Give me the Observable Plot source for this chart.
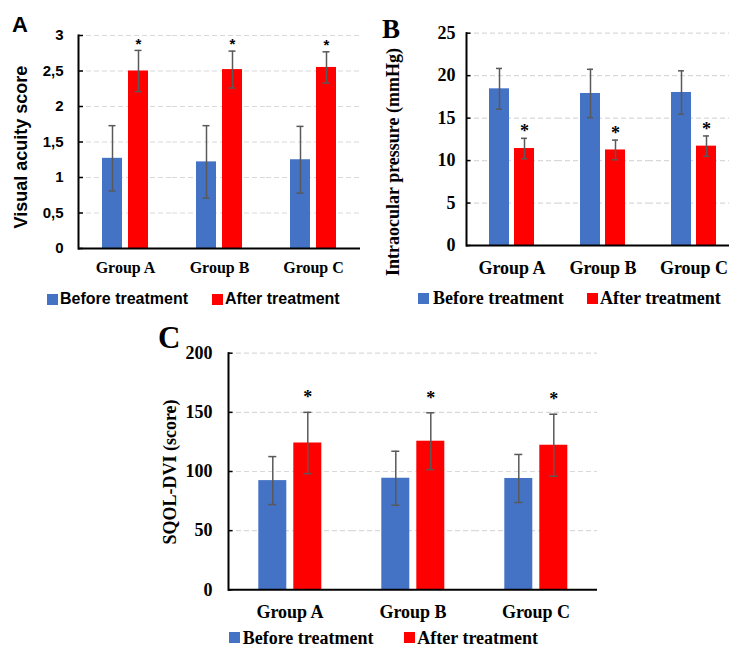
<!DOCTYPE html>
<html><head><meta charset="utf-8">
<script src="https://cdn.jsdelivr.net/npm/d3@7"></script>
<script src="https://cdn.jsdelivr.net/npm/@observablehq/plot@0.6"></script>
<style>
html,body{margin:0;padding:0;background:#fff;overflow:hidden;}
#root{position:relative;width:729px;height:648px;overflow:hidden;background:#fff;}
.abs{position:absolute;white-space:nowrap;line-height:1;color:#000;}
.leg{line-height:0.8;}
.sans{font-family:"Liberation Sans",Arial,sans-serif;font-weight:bold;}
.serif{font-family:"Liberation Serif","Times New Roman",serif;font-weight:bold;}
.sq{position:absolute;width:11px;height:11px;}
.wrap{position:absolute;}
.wrap svg{max-width:none !important;}
</style></head><body><div id="root"></div>
<script>
// ---- data ----
const groups = ["Group A", "Group B", "Group C"];
const series = ["Before treatment", "After treatment"];
const colors = ["#4472C4", "#FF0000"];

const acuityBefore = [1.27, 1.22, 1.25];
const acuityBeforeSd = [0.46, 0.51, 0.47];
const acuityAfter = [2.50, 2.52, 2.55];
const acuityAfterSd = [0.29, 0.26, 0.22];
const acuityTicks = [0, 0.5, 1, 1.5, 2, 2.5, 3];

const iopBefore = [18.45, 17.9, 18.02];
const iopBeforeSd = [2.4, 2.85, 2.55];
const iopAfter = [11.42, 11.25, 11.7];
const iopAfterSd = [1.2, 1.16, 1.2];
const iopTicks = [0, 5, 10, 15, 20, 25];

const sqolBefore = [92.3, 94.3, 94.1];
const sqolBeforeSd = [20.3, 22.8, 20.3];
const sqolAfter = [124.1, 125.6, 122.2];
const sqolAfterSd = [25.9, 24.0, 26.2];
const sqolTicks = [0, 50, 100, 150, 200];

const SERIF = '"Liberation Serif","Times New Roman",serif';
const SANS = '"Liberation Sans",Arial,sans-serif';

function panel(cfg) {
  const rows = [];
  groups.forEach((g, i) => {
    rows.push({group: g, series: series[0], mean: cfg.before[i], sd: cfg.beforeSd[i]});
    rows.push({group: g, series: series[1], mean: cfg.after[i], sd: cfg.afterSd[i]});
  });
  const facetW = (cfg.width - cfg.ml - cfg.mr) / groups.length;
  const ticks = cfg.yTicks;
  return Plot.plot({
    width: cfg.width, height: cfg.height,
    marginLeft: cfg.ml, marginRight: cfg.mr, marginTop: cfg.mt, marginBottom: cfg.mb,
    style: {background: "transparent", color: "#000", overflow: "visible", maxWidth: "none"},
    fx: {domain: groups, padding: 0, label: null},
    x: {domain: series, paddingInner: cfg.pi, paddingOuter: cfg.po, axis: null},
    y: {domain: [ticks[0], ticks[ticks.length - 1]], label: null},
    color: {domain: series, range: colors},
    marks: [
      Plot.ruleY(ticks.filter(d => d > 0), {stroke: "#d9d9d9", strokeWidth: 1.2, strokeDasharray: "5,3"}),
      Plot.barY(rows, {fx: "group", x: "series", y: "mean", fill: "series"}),
      Plot.ruleX(rows, {fx: "group", x: "series", y1: d => d.mean - d.sd, y2: d => d.mean + d.sd, stroke: "#595959", strokeWidth: 1.5}),
      Plot.tickY(rows, {fx: "group", x: "series", y: d => d.mean + d.sd, stroke: "#595959", strokeWidth: 1.5, insetLeft: cfg.capInset, insetRight: cfg.capInset}),
      Plot.tickY(rows, {fx: "group", x: "series", y: d => d.mean - d.sd, stroke: "#595959", strokeWidth: 1.5, insetLeft: cfg.capInset, insetRight: cfg.capInset}),
      Plot.text(rows.filter(d => d.series === series[1]), {fx: "group", x: "series", y: d => d.mean + d.sd, text: () => "*", dy: cfg.starDy, fontSize: cfg.starSize, fontFamily: cfg.starFont, fontWeight: "bold", fill: "#000"}),
      Plot.ruleY([ticks[0]], {stroke: "#000", strokeWidth: 2}),
      Plot.frame({anchor: "left", facetAnchor: "left", stroke: "#000", strokeWidth: 2}),
      Plot.tickY(ticks, {y: d => d, facetAnchor: "left", insetRight: facetW - 5, stroke: "#000", strokeWidth: 1.5}),
      Plot.axisY({ticks: ticks, tickFormat: cfg.fmt, tickSize: 0, tickPadding: cfg.tp, fontSize: cfg.tickFontSize, fontFamily: cfg.tickFont, fontWeight: "bold", fill: "#000", label: null}),
      Plot.axisFx({anchor: "bottom", tickSize: 0, tickPadding: cfg.cp, fontSize: cfg.catSize, fontFamily: SERIF, fontWeight: "bold", fill: "#000", label: null})
    ]
  });
}

const root = document.getElementById("root");
function place(node, left, top, w, h, hidden) {
  const d = document.createElement("div");
  d.className = "wrap";
  d.style.left = left + "px"; d.style.top = top + "px";
  if (w) d.style.width = w + "px";
  if (h) d.style.height = h + "px";
  if (hidden) d.style.overflow = "hidden";
  d.appendChild(node);
  root.appendChild(d);
}
function text(str, cls, left, top, size, extra) {
  const d = document.createElement("div");
  d.className = "abs " + cls;
  d.textContent = str;
  d.style.left = left + "px"; d.style.top = top + "px";
  d.style.fontSize = size + "px";
  if (extra) d.style.transform = extra;
  root.appendChild(d);
}
function square(color, left, top) {
  const d = document.createElement("div");
  d.className = "sq";
  d.style.left = left + "px"; d.style.top = top + "px";
  d.style.background = color;
  root.appendChild(d);
}
function legend(cls, size, y, bx, btx, rx, rtx) {
  square(colors[0], bx, y - 5.5);
  square(colors[1], rx, y - 5.5);
  text(series[0], cls + " leg", btx, y, size, "translateY(-50%)");
  text(series[1], cls + " leg", rtx, y, size, "translateY(-50%)");
}

// Panel A
place(panel({
  before: acuityBefore, beforeSd: acuityBeforeSd, after: acuityAfter, afterSd: acuityAfterSd,
  yTicks: acuityTicks, fmt: d => String(d).replace(".", ","),
  width: 365, height: 290, ml: 78, mr: 5, mt: 35, mb: 42,
  pi: 0.222, po: 0.852, capInset: 6.5,
  starDy: -6.5, starSize: 15, starFont: SANS,
  tp: 15, tickFont: SANS, tickFontSize: 15, cp: 13, catSize: 16
}), 0, 0);

// Panel B
place(panel({
  before: iopBefore, beforeSd: iopBeforeSd, after: iopAfter, afterSd: iopAfterSd,
  yTicks: iopTicks, fmt: d => String(d),
  width: 375, height: 290, ml: 100, mr: 0.5, mt: 32.7, mb: 45,
  pi: 0.192, po: 0.856, capInset: 7,
  starDy: -7, starSize: 18, starFont: SERIF,
  tp: 11, tickFont: SERIF, tickFontSize: 18, cp: 15.5, catSize: 18
}), 365, 0, 364, 320, true);

// Panel C
place(panel({
  before: sqolBefore, beforeSd: sqolBeforeSd, after: sqolAfter, afterSd: sqolAfterSd,
  yTicks: sqolTicks, fmt: d => String(d),
  width: 520, height: 300, ml: 127.7, mr: 22, mt: 32.7, mb: 30.7,
  pi: 0.211, po: 0.843, capInset: 10,
  starDy: -15, starSize: 18, starFont: SERIF,
  tp: 16, tickFont: SERIF, tickFontSize: 18, cp: 15.4, catSize: 18
}), 100, 320);

// Axis titles
text("Visual acuity score", "sans", 21, 147, 18, "translate(-50%,-50%) rotate(-90deg)");
text("Intraocular pressure (mmHg)", "serif", 393, 162, 18, "translate(-50%,-50%) rotate(-90deg)");
text("SQOL-DVI (score)", "serif", 170, 472, 18, "translate(-50%,-50%) rotate(-90deg)");

// Panel letters
text("A", "sans", 12, 14.4, 22);
text("B", "serif", 382, 16.4, 27);
text("C", "serif", 158, 322, 31);

// Legends
legend("sans", 16, 299, 47, 60, 212, 225);
legend("serif", 18, 298, 418, 433, 587, 600);
legend("serif", 18, 637.5, 229, 242.7, 404, 417.3);
</script>
</body></html>
